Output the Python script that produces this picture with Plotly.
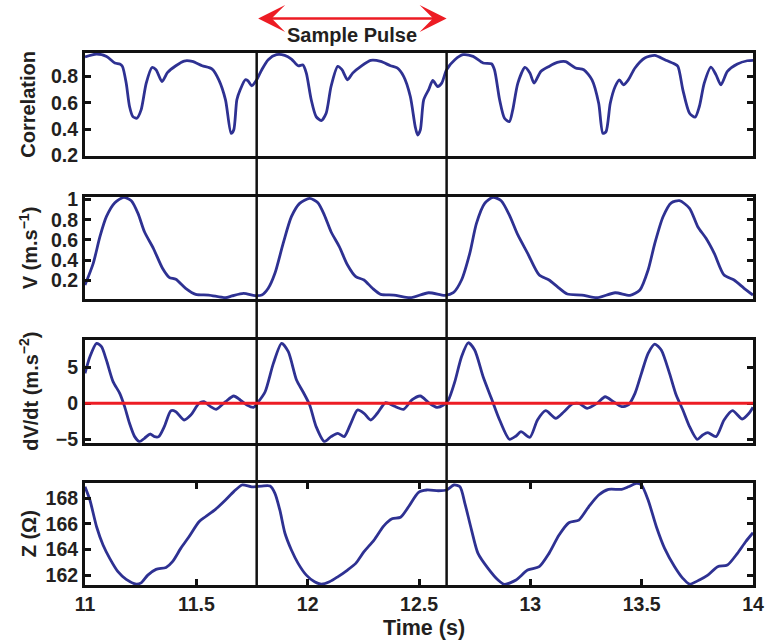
import plotly.graph_objects as go

# ---------------- data ----------------
corr_t = [11.0, 11.052, 11.097, 11.134, 11.156, 11.168, 11.185, 11.2, 11.215, 11.233, 11.252, 11.275,
          11.301, 11.319, 11.346, 11.371, 11.408, 11.445, 11.482, 11.526, 11.571, 11.601, 11.631, 11.656,
          11.668, 11.682, 11.697, 11.72, 11.731, 11.749, 11.771, 11.794, 11.823, 11.86, 11.897, 11.927,
          11.957, 11.979, 11.994, 12.016, 12.038, 12.061, 12.083, 12.105, 12.135, 12.154, 12.179, 12.202,
          12.239, 12.283, 12.328, 12.372, 12.402, 12.431, 12.461, 12.483, 12.494, 12.506, 12.521, 12.543,
          12.562, 12.584, 12.602, 12.624, 12.661, 12.698, 12.743, 12.788, 12.825, 12.839, 12.862, 12.884,
          12.906, 12.921, 12.944, 12.976, 12.998, 13.017, 13.047, 13.084, 13.121, 13.158, 13.203, 13.24,
          13.277, 13.307, 13.326, 13.34, 13.359, 13.381, 13.4, 13.418, 13.44, 13.47, 13.514, 13.559,
          13.604, 13.648, 13.663, 13.685, 13.715, 13.74, 13.759, 13.781, 13.811, 13.834, 13.856, 13.885,
          13.93, 13.974, 14.0]
corr_v = [0.95, 0.972, 0.954, 0.904, 0.896, 0.878, 0.751, 0.573, 0.496, 0.484, 0.547, 0.751,
          0.870, 0.853, 0.763, 0.832, 0.883, 0.919, 0.916, 0.883, 0.858, 0.776, 0.624, 0.369,
          0.395, 0.624, 0.700, 0.776, 0.769, 0.731, 0.776, 0.853, 0.929, 0.967, 0.962, 0.934,
          0.883, 0.889, 0.827, 0.624, 0.496, 0.466, 0.522, 0.725, 0.878, 0.853, 0.776, 0.827,
          0.878, 0.924, 0.916, 0.883, 0.866, 0.802, 0.649, 0.420, 0.356, 0.395, 0.624, 0.700,
          0.771, 0.725, 0.751, 0.853, 0.929, 0.967, 0.954, 0.904, 0.898, 0.853, 0.624, 0.484,
          0.458, 0.547, 0.751, 0.870, 0.827, 0.751, 0.840, 0.878, 0.908, 0.914, 0.866, 0.853,
          0.776, 0.598, 0.369, 0.382, 0.598, 0.725, 0.776, 0.738, 0.776, 0.866, 0.942, 0.962,
          0.929, 0.896, 0.878, 0.700, 0.522, 0.492, 0.573, 0.751, 0.873, 0.814, 0.738, 0.840,
          0.896, 0.921, 0.924]

vel_t = [11.0, 11.037, 11.067, 11.096, 11.134, 11.174, 11.208, 11.238, 11.267, 11.307, 11.348, 11.378,
         11.408, 11.452, 11.497, 11.556, 11.631, 11.66, 11.712, 11.764, 11.794, 11.823, 11.853, 11.89,
         11.927, 11.964, 12.009, 12.046, 12.075, 12.105, 12.142, 12.179, 12.216, 12.253, 12.291, 12.328,
         12.387, 12.461, 12.543, 12.617, 12.654, 12.691, 12.728, 12.758, 12.795, 12.832, 12.869, 12.906,
         12.944, 12.988, 13.04, 13.084, 13.121, 13.166, 13.232, 13.299, 13.381, 13.448, 13.492, 13.529,
         13.559, 13.596, 13.633, 13.67, 13.715, 13.752, 13.789, 13.826, 13.87, 13.915, 13.96, 14.0]
vel_v = [0.153, 0.368, 0.632, 0.830, 0.968, 1.022, 0.988, 0.863, 0.681, 0.517, 0.319, 0.230,
         0.210, 0.121, 0.061, 0.054, 0.028, 0.045, 0.071, 0.048, 0.054, 0.121, 0.269, 0.566,
         0.830, 0.962, 1.012, 0.968, 0.846, 0.681, 0.533, 0.351, 0.236, 0.203, 0.121, 0.061,
         0.054, 0.028, 0.077, 0.051, 0.077, 0.203, 0.467, 0.764, 0.962, 1.022, 0.988, 0.846,
         0.649, 0.467, 0.252, 0.203, 0.137, 0.064, 0.054, 0.028, 0.077, 0.051, 0.104, 0.302,
         0.566, 0.830, 0.968, 0.988, 0.913, 0.731, 0.616, 0.467, 0.252, 0.203, 0.121, 0.054]

acc_t = [11.0, 11.022, 11.052, 11.074, 11.096, 11.126, 11.156, 11.178, 11.2, 11.223, 11.245, 11.267,
         11.292, 11.312, 11.331, 11.356, 11.386, 11.408, 11.445, 11.475, 11.512, 11.534, 11.564, 11.589,
         11.631, 11.668, 11.697, 11.727, 11.757, 11.779, 11.809, 11.846, 11.883, 11.913, 11.95, 11.979,
         12.009, 12.038, 12.075, 12.105, 12.135, 12.164, 12.194, 12.224, 12.253, 12.283, 12.313, 12.35,
         12.387, 12.431, 12.468, 12.506, 12.543, 12.58, 12.61, 12.632, 12.661, 12.691, 12.721, 12.75,
         12.788, 12.825, 12.862, 12.906, 12.936, 12.958, 12.998, 13.032, 13.069, 13.114, 13.151, 13.188,
         13.218, 13.255, 13.299, 13.336, 13.373, 13.41, 13.44, 13.47, 13.499, 13.529, 13.559, 13.588,
         13.625, 13.655, 13.685, 13.715, 13.749, 13.774, 13.797, 13.834, 13.87, 13.908, 13.952, 13.982,
         14.0]
acc_v = [4.15, 6.45, 8.30, 7.83, 5.99, 3.00, 1.38, -0.46, -2.77, -4.61, -5.30, -4.84,
         -4.25, -4.61, -4.61, -3.23, -1.02, -1.16, -2.31, -1.62, 0.00, 0.22, -0.46, -0.83,
         0.22, 1.01, 0.46, -0.23, -0.55, 0.22, 1.60, 5.53, 8.30, 7.14, 3.22, 1.60,
         -0.23, -3.23, -5.30, -4.61, -4.15, -4.61, -2.77, -0.93, -1.38, -2.31, -1.38, 0.09,
         -0.37, -0.83, 0.46, 1.01, 0.09, -0.55, -0.23, 0.46, 3.00, 6.45, 8.38, 7.37,
         3.68, 0.69, -2.31, -4.98, -4.52, -3.93, -4.70, -2.31, -1.02, -2.07, -1.16, -0.10,
         0.00, -0.69, 0.00, 0.91, 0.22, -0.46, -0.23, 1.38, 4.15, 6.92, 8.20, 7.37,
         4.15, 1.15, -0.93, -3.23, -4.98, -4.38, -4.06, -4.61, -2.31, -1.02, -2.17, -1.38,
         -0.55]

imp_t = [11.0, 11.022, 11.052, 11.081, 11.111, 11.148, 11.185, 11.23, 11.252, 11.282, 11.319, 11.364,
         11.393, 11.43, 11.467, 11.512, 11.541, 11.586, 11.631, 11.668, 11.705, 11.749, 11.794, 11.831,
         11.853, 11.875, 11.898, 11.927, 11.957, 11.994, 12.031, 12.061, 12.098, 12.135, 12.179, 12.216,
         12.253, 12.298, 12.342, 12.379, 12.417, 12.453, 12.498, 12.535, 12.587, 12.624, 12.657, 12.684,
         12.706, 12.736, 12.765, 12.81, 12.855, 12.884, 12.936, 12.988, 13.04, 13.084, 13.129, 13.173,
         13.218, 13.262, 13.307, 13.351, 13.41, 13.44, 13.477, 13.499, 13.529, 13.566, 13.603, 13.648,
         13.685, 13.715, 13.759, 13.797, 13.841, 13.885, 13.93, 13.967, 14.0]
imp_v = [168.90, 167.87, 165.78, 164.35, 163.31, 162.27, 161.67, 161.30, 161.40, 162.00, 162.45, 162.60,
         163.05, 164.09, 165.00, 166.17, 166.56, 167.14, 167.87, 168.52, 169.04, 168.90, 168.96, 168.96,
         168.39, 167.09, 165.27, 163.96, 162.92, 162.00, 161.48, 161.30, 161.48, 161.87, 162.40, 162.92,
         163.83, 164.74, 165.85, 166.40, 166.52, 167.34, 168.47, 168.65, 168.59, 168.65, 169.04, 168.90,
         167.61, 165.52, 163.70, 162.53, 161.62, 161.28, 161.62, 162.40, 162.66, 163.70, 165.13, 166.09,
         166.30, 167.34, 168.26, 168.70, 168.70, 168.90, 169.17, 169.04, 167.87, 165.78, 164.09, 162.66,
         161.75, 161.30, 161.62, 162.00, 162.66, 162.79, 163.70, 164.61, 165.31]

pulse_bounds = [11.771, 12.624]
x_ticks = [11, 11.5, 12, 12.5, 13, 13.5, 14]
y_ticks = [[0.2, 0.4, 0.6, 0.8], [0.2, 0.4, 0.6, 0.8, 1.0], [-5, 0, 5], [162, 164, 166, 168]]
y_ranges = [[0.2, 0.98], [0.015, 1.028], [-5.45, 8.76], [161.23, 169.22]]
y_titles = ["Correlation", "V (m.s<sup>\u22121</sup>)", "dV/dt (m.s<sup>\u22122</sup>)", "Z (\u03a9)"]
x_title = "Time (s)"
pulse_label = "Sample Pulse"

# ---------------- figure ----------------
BLUE = "#2E3192"
RED = "#ED1C24"
INK = "#231F20"
FONT = "Liberation Sans, Arial, sans-serif"
TICK = dict(size=19.5, color=INK, family=FONT, weight="bold")

domains = [[0.8073, 1.0], [0.5376, 0.7299], [0.2675, 0.4605], [0.0, 0.1923]]
series = [(corr_t, corr_v), (vel_t, vel_v), (acc_t, acc_v), (imp_t, imp_v)]

fig = go.Figure()
for i, (t, v) in enumerate(series):
    n = "" if i == 0 else str(i + 1)
    fig.add_trace(go.Scatter(x=t, y=v, mode="lines", xaxis="x" + n, yaxis="y" + n,
                             line=dict(color=BLUE, width=2.8, shape="spline", smoothing=0.7),
                             showlegend=False, hoverinfo="skip"))

layout = dict(width=776, height=642, margin=dict(l=85, r=17, t=53, b=57),
              paper_bgcolor="white", plot_bgcolor="white",
              font=dict(family=FONT, size=19, color=INK, weight="bold"),
              showlegend=False)

for i in range(4):
    n = "" if i == 0 else str(i + 1)
    last = (i == 3)
    layout["xaxis" + n] = dict(domain=[0, 1], range=[11, 14], anchor="y" + n,
                               matches=None if i == 0 else "x",
                               showline=True, linewidth=3, linecolor="#111111",
                               mirror="ticks" if last else True,
                               ticks="inside" if last else "", ticklen=6, tickwidth=2.5,
                               tickcolor="#111111", tickvals=x_ticks if last else [],
                               showticklabels=last, showgrid=False, zeroline=False,
                               tickfont=TICK)
    layout["yaxis" + n] = dict(domain=domains[i], range=y_ranges[i], anchor="x" + n,
                               showline=True, linewidth=3, linecolor="#111111", mirror="ticks",
                               ticks="inside", ticklen=6, tickwidth=2.5, tickcolor="#111111",
                               tickvals=y_ticks[i], showgrid=False, zeroline=False,
                               tickfont=TICK)
fig.update_layout(**layout)

# y-axis titles
for i in range(4):
    fig.add_annotation(text=y_titles[i], xref="paper", yref="paper",
                       x=-0.0846, y=(domains[i][0] + domains[i][1]) / 2,
                       xanchor="center", yanchor="middle", textangle=-90, showarrow=False,
                       font=dict(size=20, color=INK, family=FONT, weight="bold"))

# x-axis title
fig.add_annotation(text=x_title, xref="paper", yref="paper", x=0.508, y=-0.081,
                   xanchor="center", yanchor="middle", showarrow=False,
                   font=dict(size=21.5, color=INK, family=FONT, weight="bold"))

# pulse boundary lines
for b in pulse_bounds:
    fig.add_shape(type="line", xref="x4", yref="paper", x0=b, x1=b, y0=0, y1=1,
                  line=dict(color="#111111", width=2.5), layer="above")

# zero line on dV/dt
fig.add_shape(type="line", xref="x3 domain", yref="y3", x0=0, x1=1, y0=0, y1=0,
              line=dict(color=RED, width=3), layer="above")

# double-headed arrow and label
fig.add_annotation(x=pulse_bounds[1], y=1.065, ax=pulse_bounds[0], ay=0,
                   xref="x4", yref="paper", axref="x4", ayref="pixel",
                   text="", showarrow=True, arrowside="end+start", arrowhead=3,
                   arrowsize=1.8, arrowwidth=2.5, arrowcolor=RED, standoff=0, startstandoff=0)
fig.add_annotation(text=pulse_label, xref="x4", yref="paper",
                   x=(pulse_bounds[0] + pulse_bounds[1]) / 2, y=1.033,
                   xanchor="center", yanchor="middle", showarrow=False,
                   font=dict(size=20, color=INK, family=FONT, weight="bold"))

fig.write_html("out.html")
